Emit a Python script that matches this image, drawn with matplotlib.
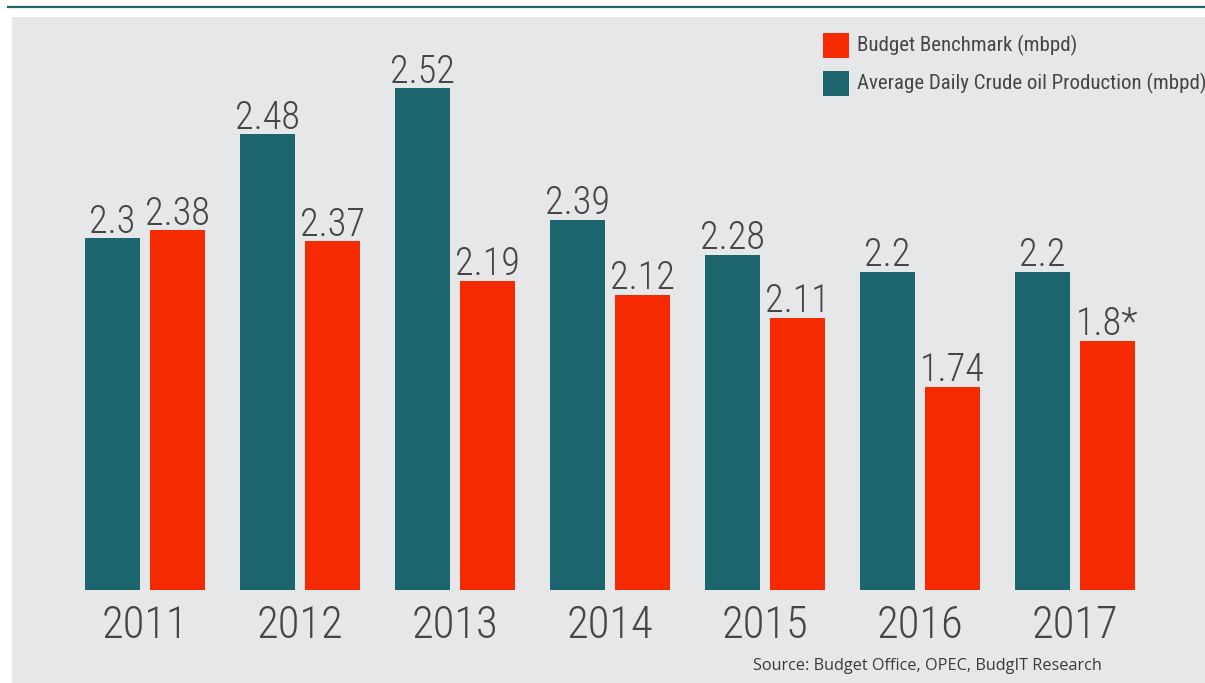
import matplotlib
matplotlib.use('Agg')
import matplotlib.pyplot as plt
from matplotlib.patches import Rectangle
from matplotlib.lines import Line2D
import numpy as np

years = ['2011', '2012', '2013', '2014', '2015', '2016', '2017']
# labels printed on the bars (mbpd)
prod_labels = ['2.3', '2.48', '2.52', '2.39', '2.28', '2.2', '2.2']
bench_labels = ['2.38', '2.37', '2.19', '2.12', '2.11', '1.74', '1.8*']
# bar lengths as drawn in the source graphic (not to scale with the labels)
prod_drawn = [2.30, 2.98, 3.28, 2.42, 2.19, 2.08, 2.08]
bench_drawn = [2.35, 2.28, 2.02, 1.93, 1.78, 1.33, 1.63]

TEAL = '#1d656c'
RED = '#f52a00'
BG = '#e6e7e9'
TXT = '#454545'
NARROW = ['Roboto Condensed', 'DejaVu Sans']

W, H = 1205, 683
fig = plt.figure(figsize=(W / 100, H / 100), dpi=100)
fig.patch.set_facecolor('white')

def fx(px): return px / W
def fy(py): return 1 - py / H

# grey panel and the teal rule above it
fig.patches.append(Rectangle((fx(12), 0), 1 - fx(12), fy(17), transform=fig.transFigure,
                             facecolor=BG, edgecolor='none', zorder=-5))
fig.lines.append(Line2D([fx(8), 1], [fy(6.5), fy(6.5)], transform=fig.transFigure,
                        color=TEAL, linewidth=1.6))

# baseline sits at 590 px, groups are 155 px apart starting at 145 px
ax = fig.add_axes([0, fy(590), 1, 1 - fy(590)])
ax.set_facecolor('none')
ax.set_xlim(-145 / 155, (W - 145) / 155)
ax.set_ylim(0, 590 / 153)
ax.axis('off')

x = np.arange(len(years))
w = 55 / 155
off = 32.5 / 155
ax.bar(x - off, prod_drawn, w, color=TEAL)
ax.bar(x + off, bench_drawn, w, color=RED)

for xi, h, lab in zip(x - off, prod_drawn, prod_labels):
    ax.annotate(lab, (xi, h), xytext=(0, 4), textcoords='offset points', ha='center',
                va='baseline', fontsize=27.5, color=TXT, family=NARROW, weight='light')
for xi, h, lab in zip(x + off, bench_drawn, bench_labels):
    ax.annotate(lab, (xi, h), xytext=(0, 4), textcoords='offset points', ha='center',
                va='baseline', fontsize=27.5, color=TXT, family=NARROW, weight='light')
for xi, yr in zip(x, years):
    ax.annotate(yr, (xi, 0), xytext=(0, -34.5), textcoords='offset points', ha='center',
                va='baseline', fontsize=32, color=TXT, family=NARROW, weight='light',
                annotation_clip=False)

# legend, placed by hand
for row, (col, lab) in enumerate([(RED, 'Budget Benchmark (mbpd)'),
                                  (TEAL, 'Average Daily Crude oil Production (mbpd)')]):
    top = 33 + row * 38
    fig.patches.append(Rectangle((fx(823), fy(top + 25)), fx(26), 25 / H,
                                 transform=fig.transFigure, facecolor=col, edgecolor='none'))
    fig.text(fx(857), fy(top + 12.5), lab, ha='left', va='center', fontsize=15,
             color=TXT, family=NARROW)

fig.text(fx(753), fy(670), 'Source: Budget Office, OPEC, BudgIT Research', ha='left',
         va='baseline', fontsize=11.7, color='#3a3a3a', family=['Open Sans', 'DejaVu Sans'])

fig.savefig('out.png', dpi=100, facecolor='white')
